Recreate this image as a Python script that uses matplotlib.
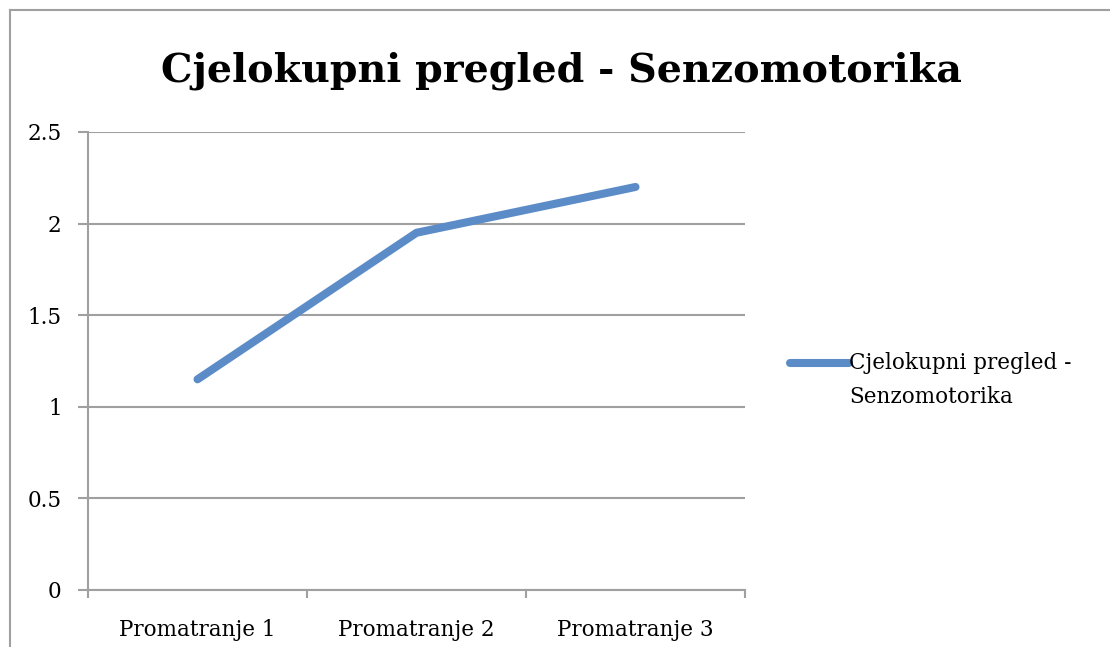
import numpy as np
import matplotlib.pyplot as plt
from matplotlib.lines import Line2D

# chart data
categories = ["Promatranje 1", "Promatranje 2", "Promatranje 3"]
values = [1.15, 1.95, 2.2]
title = "Cjelokupni pregled - Senzomotorika"
yticks = [0, 0.5, 1, 1.5, 2, 2.5]

plt.rcParams['font.family'] = ['DejaVu Serif']
grey = '#a0a0a0'

fig = plt.figure(figsize=(11.1, 6.47), dpi=100)
ax = fig.add_axes([88/1110, 57/647, 657/1110, 458/647])

x = range(len(categories))
ax.plot(x, values, color='#5b8cc7', linewidth=5.8, solid_capstyle='round',
        solid_joinstyle='round', label="Cjelokupni pregled -\nSenzomotorika")

ax.set_xlim(-0.5, len(categories) - 0.5)
ax.set_ylim(0, 2.5)
ax.set_yticks(yticks)
ax.set_yticklabels([f"{t:g}" for t in yticks], fontsize=15.5)
ax.set_xticks(list(x))
ax.set_xticklabels(categories, fontsize=15.5)
ax.tick_params(axis='x', length=0, pad=21)
ax.set_xticks([i - 0.5 for i in range(len(categories) + 1)], minor=True)
ax.tick_params(axis='x', which='minor', length=6, color=grey, width=1.5, direction='out')
ax.tick_params(axis='y', length=7, color=grey, width=1.5, pad=12)

ax.yaxis.grid(True, color=grey, linewidth=1.5)
ax.set_axisbelow(True)
for s in ['top', 'right']:
    ax.spines[s].set_visible(False)
for s in ['left', 'bottom']:
    ax.spines[s].set_color(grey)
    ax.spines[s].set_linewidth(1.5)

fig.text(561/1110, 1 - 71/647, title, ha='center', va='center',
         fontsize=28.5, fontweight='bold')

leg = fig.legend(loc='upper left', bbox_to_anchor=(781/1110, 1 - 343/647),
                 frameon=False, fontsize=15.5, handlelength=2.75, handletextpad=0.0,
                 borderaxespad=0)
for t in leg.get_texts():
    t.set_linespacing(1.75)
# put the legend line level with the first text line
h = leg.legend_handles[0]
h.set_ydata(np.asarray(h.get_ydata(), dtype=float) + 13)

# outer chart border (left and top visible)
fig.add_artist(Line2D([10/1110, 10/1110], [0, 1 - 10/647], color=grey, linewidth=1.5,
                      transform=fig.transFigure))
fig.add_artist(Line2D([10/1110, 1], [1 - 10/647, 1 - 10/647], color=grey, linewidth=1.5,
                      transform=fig.transFigure))

plt.savefig('out.png', dpi=100)
